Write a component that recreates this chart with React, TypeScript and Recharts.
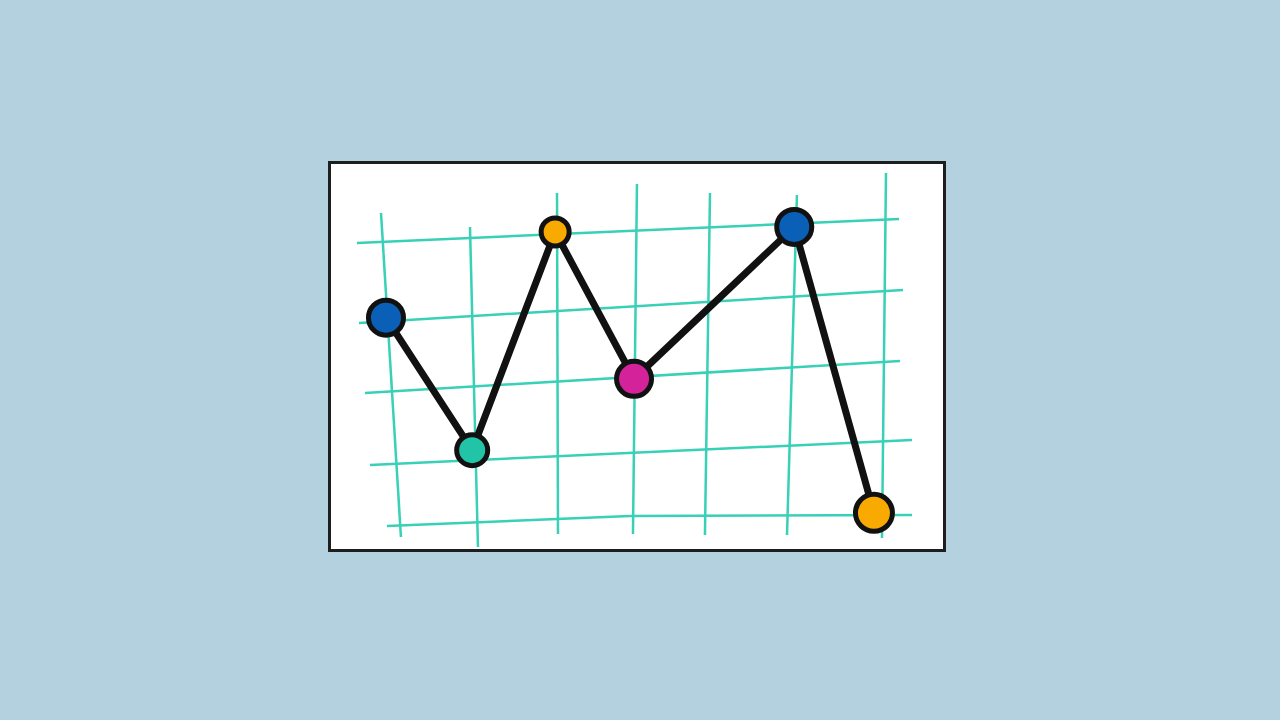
import React from "react";
import { LineChart, Line, XAxis, YAxis, ReferenceLine } from "recharts";

// Data points (x in grid steps, y in grid rows)
const pointX = [0, 1.06, 2.08, 3.05, 5.02, 6.0];
const pointY = [2.81, 0.97, 4.0, 1.96, 4.07, 0.1];
const pointColors = ["#0a60b6", "#22c4a7", "#f9aa00", "#d4229b", "#0a60b6", "#f9aa00"];
const pointRadii = [17.5, 15.5, 14, 17.5, 17.5, 18.5];

// Hand-drawn grid lines: [x1, y1, x2, y2] in data units
const verticalLines = [
  [-0.061, 4.264, 0.184, -0.236],
  [1.033, 4.069, 1.131, -0.375],
  [2.103, 4.542, 2.115, -0.194],
  [3.086, 4.667, 3.037, -0.194],
  [3.984, 4.542, 3.922, -0.208],
  [5.053, 4.514, 4.931, -0.208],
  [6.148, 4.819, 6.099, -0.25],
];
const horizontalLines = [
  [-0.357, 3.847, 6.308, 4.181],
  [-0.332, 2.736, 6.357, 3.194],
  [-0.258, 1.764, 6.32, 2.208],
  [-0.197, 0.764, 6.468, 1.111],
  [0.012, -0.083, 3.0, 0.056],
  [3.0, 0.056, 6.468, 0.069],
];

const xDomain = [-0.676, 6.849];
const yDomain = [-0.403, 4.944];

const data = pointX.map((x, i) => ({ x, y: pointY[i], idx: i }));

const GRID = "#38d0b6";

const renderDot = (props: any) => {
  const { cx, cy, index } = props;
  return (
    <circle
      key={`dot-${index}`}
      cx={cx}
      cy={cy}
      r={pointRadii[index]}
      fill={pointColors[index]}
      stroke="#111"
      strokeWidth={5}
    />
  );
};

export default function App() {
  return (
    <div
      style={{
        position: "absolute",
        left: 0,
        top: 0,
        width: 1280,
        height: 720,
        background: "#b3d1df",
        overflow: "hidden",
      }}
    >
      <div
        style={{
          position: "absolute",
          left: 328,
          top: 161,
          width: 618,
          height: 391,
          boxSizing: "border-box",
          border: "3px solid #1e1e1e",
          background: "#ffffff",
        }}
      >
        <LineChart
          width={612}
          height={385}
          data={data}
          margin={{ top: 0, right: 0, bottom: 0, left: 0 }}
        >
          <XAxis type="number" dataKey="x" domain={xDomain} hide allowDataOverflow />
          <YAxis type="number" domain={yDomain} hide allowDataOverflow />
          {verticalLines.map((s, i) => (
            <ReferenceLine
              key={`v-${i}`}
              segment={[
                { x: s[0], y: s[1] },
                { x: s[2], y: s[3] },
              ]}
              stroke={GRID}
              strokeWidth={2.5}
              ifOverflow="visible"
            />
          ))}
          {horizontalLines.map((s, i) => (
            <ReferenceLine
              key={`h-${i}`}
              segment={[
                { x: s[0], y: s[1] },
                { x: s[2], y: s[3] },
              ]}
              stroke={GRID}
              strokeWidth={2.5}
              ifOverflow="visible"
            />
          ))}
          <Line
            type="linear"
            dataKey="y"
            stroke="#111"
            strokeWidth={7}
            strokeLinejoin="round"
            dot={renderDot}
            activeDot={false}
            isAnimationActive={false}
          />
        </LineChart>
      </div>
    </div>
  );
}
